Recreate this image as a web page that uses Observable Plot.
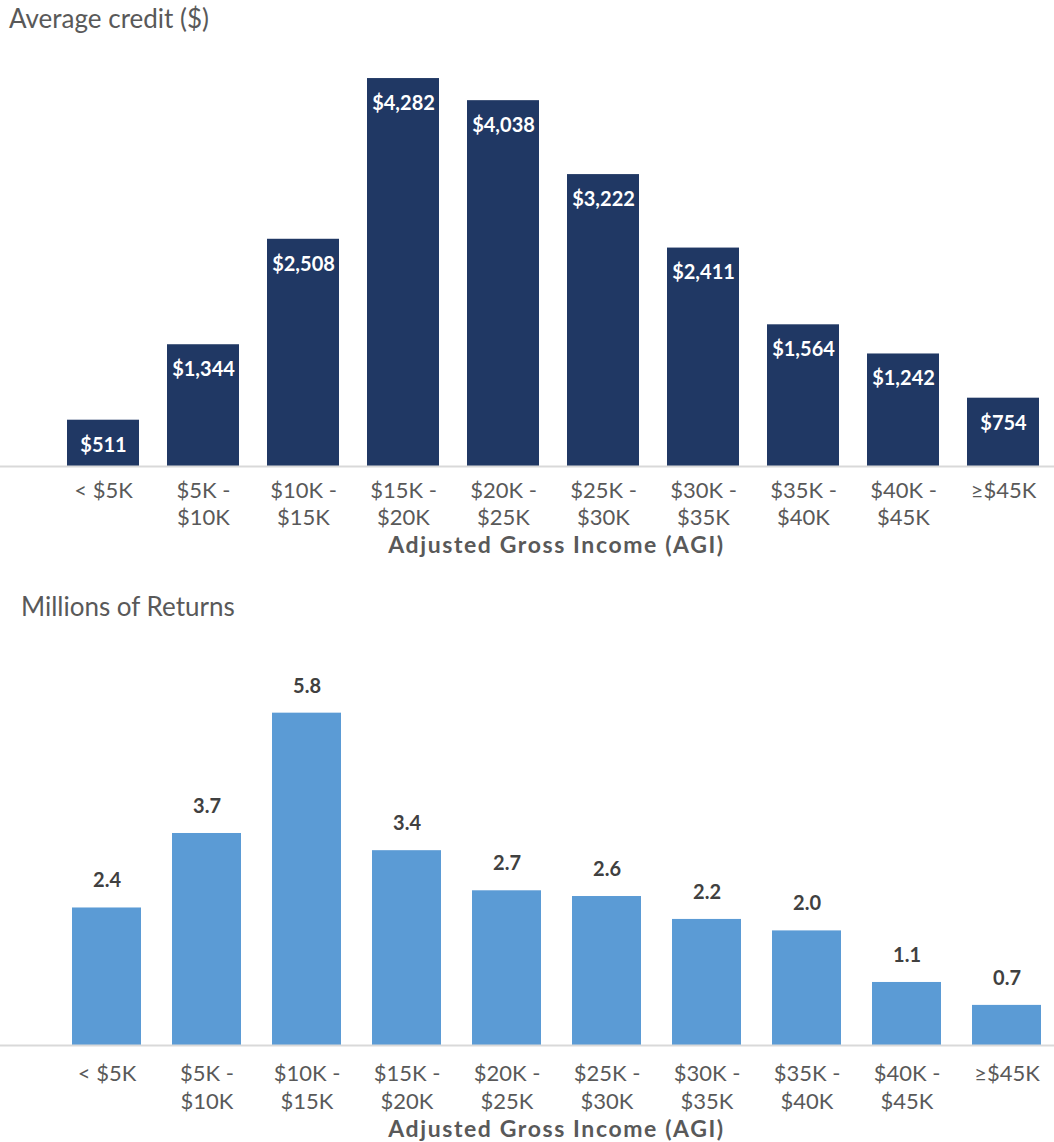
<!DOCTYPE html>
<html>
<head>
<meta charset="utf-8">
<script src="https://cdn.jsdelivr.net/npm/d3@7"></script>
<script src="https://cdn.jsdelivr.net/npm/@observablehq/plot@0.6"></script>
<style>
  html, body { margin: 0; padding: 0; background: #fff; }
  #wrap { position: relative; width: 1054px; height: 1142px; font-family: Lato, "Open Sans", sans-serif; overflow: hidden; }
  .title { position: absolute; color: #595959; font-size: 26px; line-height: 31px; white-space: nowrap; }
  .panel { position: absolute; left: 0; }
</style>
</head>
<body>
<div id="wrap">
  <div class="title" id="t1" style="top:3px; left:9px;">Average credit ($)</div>
  <div class="panel" id="p1" style="top:40px;"></div>
  <div class="title" id="t2" style="left:21px; top:591px;">Millions of Returns</div>
  <div class="panel" id="p2" style="top:630px;"></div>
</div>
<script>
const categories = ["< $5K", "$5K -\n$10K", "$10K -\n$15K", "$15K -\n$20K", "$20K -\n$25K", "$25K -\n$30K", "$30K -\n$35K", "$35K -\n$40K", "$40K -\n$45K", "≥$45K"];
const averageCredit = [511, 1344, 2508, 4282, 4038, 3222, 2411, 1564, 1242, 754];
const millionsOfReturns = [2.4, 3.7, 5.8, 3.4, 2.7, 2.6, 2.2, 2.0, 1.1, 0.7];
const xAxisLabel = "Adjusted Gross Income (AGI)";

const creditData = categories.map((c, i) => ({cat: c, v: averageCredit[i]}));
const returnsData = categories.map((c, i) => ({cat: c, v: millionsOfReturns[i]}));

const font = "Lato, 'Open Sans', sans-serif";

const plot1 = Plot.plot({
  width: 1054,
  height: 520,
  marginLeft: 0, marginRight: 0, marginTop: 426 - 4500 * 0.0906, marginBottom: 94,
  style: {fontFamily: font, background: "#fff", overflow: "visible"},
  x: {domain: categories, range: [53, 1053], paddingInner: 0.28, paddingOuter: 0.14},
  y: {domain: [0, 4500], axis: null},
  marks: [
    Plot.barY(creditData, {x: "cat", y: "v", fill: "#203864"}),
    Plot.ruleY([0], {stroke: "#d9d9d9", strokeWidth: 2}),
    Plot.text(creditData, {x: "cat", y: "v", text: d => "$" + d3.format(",")(d.v), dy: 25, fill: "#fff", fontWeight: "bold", fontSize: 20}),
    Plot.axisX({tickSize: 0, tickPadding: 12, fontSize: 22, fill: "#595959", lineHeight: 1.23, label: null}),
    Plot.text([xAxisLabel], {frameAnchor: "bottom", dx: 29, dy: 86, fontSize: 23, fontWeight: "bold", fill: "#595959"})
  ]
});
document.getElementById("p1").appendChild(plot1);

const plot2 = Plot.plot({
  width: 1054,
  height: 512,
  marginLeft: 0, marginRight: 0, marginTop: 415 - 6 * 57.3, marginBottom: 97,
  style: {fontFamily: font, background: "#fff", overflow: "visible"},
  x: {domain: categories, range: [56, 1056], paddingInner: 0.31, paddingOuter: 0.155},
  y: {domain: [0, 6], axis: null},
  marks: [
    Plot.barY(returnsData, {x: "cat", y: "v", fill: "#5b9bd5"}),
    Plot.ruleY([0], {stroke: "#d9d9d9", strokeWidth: 2}),
    Plot.text(returnsData, {x: "cat", y: "v", text: d => d3.format(".1f")(d.v), dy: -27, fill: "#404040", fontWeight: "bold", fontSize: 20}),
    Plot.axisX({tickSize: 0, tickPadding: 15, fontSize: 22, fill: "#595959", lineHeight: 1.3, label: null}),
    Plot.text([xAxisLabel], {frameAnchor: "bottom", dx: 29, dy: 91, fontSize: 23, fontWeight: "bold", fill: "#595959"})
  ]
});
document.getElementById("p2").appendChild(plot2);

for (const p of [plot1, plot2]) {
  d3.select(p).selectAll("text")
    .filter(function () { return this.textContent === xAxisLabel; })
    .style("letter-spacing", "1.6px");
}
</script>
</body>
</html>
